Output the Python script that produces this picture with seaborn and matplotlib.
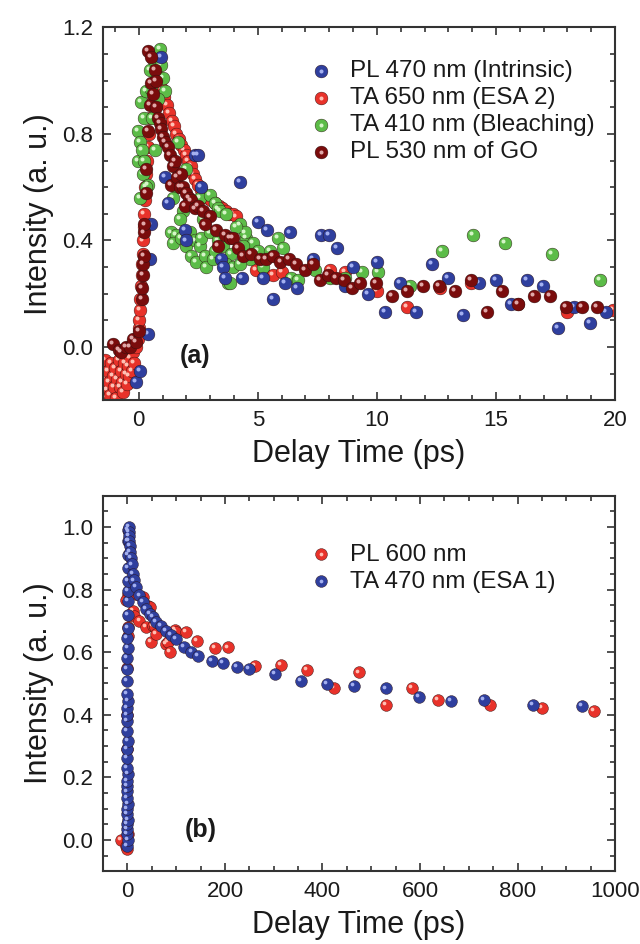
import matplotlib
matplotlib.use("Agg")
import matplotlib.pyplot as plt
import matplotlib.transforms as mtransforms
import pandas as pd
import seaborn as sns
from matplotlib.legend_handler import HandlerTuple
from matplotlib.ticker import MultipleLocator


# ---- panel (a), delay time in ps ----
pl470_t = [-0.10, 0.04, 0.39, 0.46, 0.50, 0.95, 1.09, 1.23, 1.93, 2.00, 2.35, 2.50,
           2.63, 3.47, 3.54, 3.61, 4.24, 4.35, 5.01, 5.22, 5.39, 5.64, 6.13, 6.34,
           6.65, 7.32, 7.67, 8.00, 8.33, 8.66, 8.98, 9.64, 9.99, 10.34, 10.97, 11.64,
           12.32, 12.97, 13.63, 14.30, 14.99, 15.63, 16.29, 16.96, 17.62, 18.28, 18.95, 19.62]
pl470_i = [-0.13, -0.09, 0.05, 0.33, 0.46, 1.09, 0.64, 0.54, 0.44, 0.40, 0.72, 0.72,
           0.60, 0.33, 0.30, 0.26, 0.62, 0.26, 0.47, 0.26, 0.44, 0.18, 0.24, 0.43,
           0.22, 0.33, 0.42, 0.42, 0.37, 0.23, 0.30, 0.20, 0.32, 0.13, 0.24, 0.13,
           0.31, 0.26, 0.12, 0.24, 0.25, 0.16, 0.25, 0.23, 0.07, 0.15, 0.09, 0.13]

ta650_t = [-1.45, -1.45, -1.40, -1.35, -1.30, -1.25, -1.20, -1.15, -1.10, -1.05, -1.00, -0.95,
           -0.90, -0.85, -0.80, -0.75, -0.70, -0.65, -0.60, -0.55, -0.50, -0.45, -0.40, -0.35,
           -0.30, -0.25, -0.20,
           -0.10, -0.05, 0.00, 0.02, 0.05, 0.07, 0.10, 0.12, 0.14, 0.16, 0.18, 0.20,
           0.22, 0.25, 0.28, 0.30, 0.33, 0.37, 0.42, 0.48, 0.55, 0.62, 0.70, 0.78,
           0.88, 0.98, 1.08, 1.18, 1.28, 1.38, 1.48, 1.58, 1.68, 1.78, 1.88, 1.98,
           2.08, 2.18, 2.28, 2.38, 2.48, 2.60, 2.75, 2.90, 3.05, 3.20, 3.35, 3.50,
           3.65, 3.80, 3.95, 4.10,
           4.94, 5.29, 5.64, 6.00, 8.03, 8.66, 9.99, 11.27, 12.65, 13.94, 15.94, 17.97, 19.93]
ta650_i = [-0.19, -0.12, -0.05, -0.16, -0.09, -0.13, -0.18, -0.06, -0.11, -0.15, -0.08, -0.19,
           -0.12, -0.05, -0.15, -0.09, -0.13, -0.17, -0.06, -0.10, -0.14, -0.07, -0.11, -0.04,
           -0.09, -0.02, -0.06,
           0.00, 0.03, 0.07, 0.10, 0.14, 0.18, 0.23, 0.27, 0.31, 0.35, 0.40, 0.45,
           0.50, 0.55, 0.60, 0.65, 0.70, 0.75, 0.80, 0.86, 0.92, 0.97, 1.00, 1.02,
           1.00, 0.97, 0.94, 0.91, 0.88, 0.85, 0.83, 0.80, 0.78, 0.76, 0.74, 0.72,
           0.70, 0.68, 0.65, 0.63, 0.61, 0.59, 0.57, 0.56, 0.55, 0.54, 0.53, 0.52,
           0.51, 0.50, 0.50, 0.49,
           0.29, 0.27, 0.27, 0.28, 0.29, 0.28, 0.21, 0.15, 0.22, 0.24, 0.16, 0.13, 0.14]

ta410_t = [-0.03, 0.04, -0.03, 0.18, 0.04, 0.11, 0.20, 0.32, 0.46, 0.60, 0.88, 0.95,
           1.02, 1.09, 0.39, 0.32, 0.67, 0.15, 0.22, 0.50, 0.70, 0.80, 0.55,
           1.65, 2.00, 1.58, 1.44, 2.56, 2.98, 3.19, 3.33,
           1.37, 1.58, 1.44, 1.79, 2.14, 2.00, 2.35, 2.56, 2.21, 2.42, 2.77, 2.84,
           3.12, 2.63, 2.98, 3.33, 3.54, 3.19, 3.89, 3.68, 3.96, 3.75, 4.24, 4.52,
           4.80, 4.38, 4.66, 5.01, 5.22, 5.50, 3.40, 3.68, 1.86, 2.14, 2.70, 1.72,
           4.45, 5.85, 6.06, 6.41, 6.69, 7.39, 8.03, 8.66, 9.36, 10.06, 3.82, 4.24, 4.10,
           11.39, 12.72, 14.02, 15.38, 17.37, 19.37]
ta410_i = [0.81, 0.77, 0.70, 0.65, 0.56, 0.92, 0.86, 0.96, 1.04, 1.08, 1.12, 1.06,
           1.01, 0.96, 0.61, 0.60, 0.74, 0.74, 0.70, 0.97, 1.00, 0.93, 0.86,
           0.77, 0.67, 0.60, 0.56, 0.56, 0.57, 0.54, 0.52,
           0.43, 0.42, 0.39, 0.41, 0.43, 0.38, 0.40, 0.38, 0.34, 0.32, 0.34, 0.30,
           0.33, 0.41, 0.43, 0.40, 0.38, 0.36, 0.35, 0.31, 0.30, 0.24, 0.46, 0.41,
           0.39, 0.38, 0.33, 0.36, 0.30, 0.36, 0.51, 0.50, 0.51, 0.54, 0.48, 0.48,
           0.43, 0.41, 0.37, 0.26, 0.25, 0.29, 0.26, 0.26, 0.28, 0.28, 0.24, 0.31, 0.45,
           0.23, 0.36, 0.42, 0.39, 0.35, 0.25]

go530_t = [-1.08, -0.85, -0.73, -0.55, -0.38, -0.24, -0.10, 0.01, 0.13, 0.15, 0.17, 0.18,
           0.20, 0.22, 0.24, 0.32, 0.32, 0.39, 0.46, 0.39, 0.53, 0.67, 0.53, 0.74,
           0.60, 0.74, 0.81, 0.88, 0.95, 1.02, 1.10, 1.23, 1.30, 1.37, 1.45, 1.51,
           1.60, 1.72, 1.79, 1.86, 2.00, 2.10, 2.21, 1.93, 2.35, 2.49, 2.70, 2.98,
           2.77, 3.26, 3.61, 3.82, 3.33, 3.96, 4.17, 4.38, 4.73, 5.08, 5.34, 5.64,
           5.95, 6.32, 6.62, 6.97, 7.30, 7.60, 7.95, 8.28, 8.61, 8.94, 9.29, 9.96,
           10.62, 11.27, 11.95, 12.62, 13.28, 13.94, 14.61, 15.27, 15.94, 16.61, 17.27,
           17.93, 18.60, 19.26]
go530_i = [0.01, -0.01, -0.02, 0.00, 0.00, 0.03, 0.02, 0.06, 0.18, 0.22, 0.27, 0.31,
           0.34, 0.43, 0.46, 0.58, 0.67, 0.81, 0.91, 1.11, 1.09, 1.04, 0.99, 1.00,
           0.95, 0.90, 0.86, 0.84, 0.82, 0.79, 0.77, 0.75, 0.72, 0.61, 0.68, 0.70,
           0.64, 0.60, 0.65, 0.60, 0.58, 0.56, 0.55, 0.53, 0.52, 0.53, 0.51, 0.49,
           0.46, 0.44, 0.42, 0.41, 0.38, 0.41, 0.37, 0.34, 0.35, 0.33, 0.33, 0.34,
           0.32, 0.33, 0.31, 0.29, 0.31, 0.25, 0.27, 0.26, 0.25, 0.22, 0.24, 0.24,
           0.19, 0.21, 0.23, 0.23, 0.21, 0.25, 0.13, 0.21, 0.16, 0.19, 0.19,
           0.15, 0.15, 0.15]

# ---- panel (b), delay time in ps ----
ta470_t = [0, 1, 0, -1, 0, 1, 0, 0, 1, 0, -1, 0,
           0, 1, 0, 0, 0, 1, 0, 0, 0, 0, 1, 0,
           0, 0, 0, 1, 0, 1, 1, 1, 1, 1, 1, 1,
           1.5, 2, 2.5, 3, 3.5, 4, 5, 6, 7.5, 9, 10.9, 14.4,
           17.9, 24.7, 31.6, 38.6, 45.4, 52.2, 59.2, 69.5, 79.8, 90.1, 100.4, 115.5,
           131.3, 145, 172.6, 196.5, 224.1, 250.1, 303.1, 356.7, 409.7, 464.6, 530, 598.6,
           664, 731.4, 832.4, 932]
ta470_i = [-0.02, 0.00, 0.018, 0.035, 0.05, 0.065, 0.082, 0.10, 0.114, 0.135, 0.155, 0.173,
           0.19, 0.21, 0.231, 0.263, 0.29, 0.317, 0.349, 0.381, 0.40, 0.423, 0.445, 0.466,
           0.509, 0.546, 0.58, 0.613, 0.645, 0.677, 0.72, 0.762, 0.794, 0.826, 0.869, 0.911,
           0.954, 0.99, 1.00, 0.985, 0.97, 0.955, 0.94, 0.92, 0.90, 0.88, 0.85, 0.829,
           0.807, 0.781, 0.759, 0.738, 0.722, 0.711, 0.695, 0.685, 0.669, 0.654, 0.642, 0.618,
           0.60, 0.589, 0.573, 0.565, 0.554, 0.546, 0.53, 0.509, 0.498, 0.493, 0.484, 0.458,
           0.445, 0.447, 0.431, 0.429]

pl600_t = [-13, -3, 0, 1, 0, 0, 0, 1, 0.6, -2.7, 0.6, 3,
           10.9, 14.4, 17.9, 24.7, 31.6, 38.6, 41.9, 45.4, 48.9, 52.2, 55.7, 59.2,
           79.8, 83.1, 86.6, 96.9, 100.4, 121, 141.7, 179.4, 206.8, 261.9, 315.5, 368.5,
           423.3, 474.9, 530, 582.9, 636.5, 743, 849.5, 956.1]
pl600_i = [0.00, -0.02, -0.03, 0.02, 0.29, 0.40, 0.55, 0.65, 0.786, 0.765, 0.679, 0.72,
           0.733, 0.717, 0.786, 0.701, 0.775, 0.679, 0.746, 0.743, 0.631, 0.685, 0.679, 0.658,
           0.626, 0.631, 0.60, 0.671, 0.663, 0.663, 0.637, 0.613, 0.615, 0.557, 0.56, 0.543,
           0.485, 0.535, 0.432, 0.487, 0.447, 0.432, 0.423, 0.413]

BLUE, BLUE_HL = "#2f3f9e", "#a4b0f0"
RED, RED_HL = "#e8322a", "#ffc0b4"
GREEN, GREEN_HL = "#5cbc48", "#d6f5c8"
DKRED, DKRED_HL = "#7a0c0c", "#e0a8a8"
INK = "#1a1a1a"

TICK_SIZE = 16
LABEL_SIZE = 22
LEGEND_SIZE = 17.5

sns.set_style("ticks")
plt.rcParams["font.family"] = ["Liberation Sans", "DejaVu Sans"]
plt.rcParams.update({"text.color": INK, "axes.labelcolor": INK,
                     "xtick.color": INK, "ytick.color": INK})


def draw_balls(ax, fig, t, i, color, hl, label, size):
    df = pd.DataFrame({"t": t, "i": i})
    sns.scatterplot(data=df, x="t", y="i", color=color, s=size, edgecolor="#2a1010",
                    linewidth=0.3, alpha=1.0, label=label, ax=ax, legend=False)
    base = ax.collections[-1]
    shift = mtransforms.offset_copy(ax.transData, fig=fig, x=-1.4, y=1.4, units="points")
    glint = ax.scatter(df["t"], df["i"], s=size * 0.1, color=hl, linewidths=0,
                       transform=shift, zorder=base.get_zorder())
    return (base, glint)


def style_axes(ax, xmaj, xmin, ymaj, ymin):
    ax.xaxis.set_major_locator(MultipleLocator(xmaj))
    ax.xaxis.set_minor_locator(MultipleLocator(xmin))
    ax.yaxis.set_major_locator(MultipleLocator(ymaj))
    ax.yaxis.set_minor_locator(MultipleLocator(ymin))
    ax.tick_params(which="both", direction="in", top=True, right=True,
                   labelsize=TICK_SIZE, color="#333333", width=1.2)
    ax.tick_params(which="major", length=6, pad=7)
    ax.tick_params(which="minor", length=3.5)
    for sp in ax.spines.values():
        sp.set_linewidth(1.5)
        sp.set_color("#333333")
    ax.set_xlabel("Delay Time (ps)", fontsize=LABEL_SIZE, labelpad=6)
    ax.set_ylabel("Intensity (a. u.)", fontsize=LABEL_SIZE, labelpad=6)


fig = plt.figure(figsize=(6.4, 9.44), dpi=100)
ax_a = fig.add_axes([0.161, 0.576, 0.8, 0.395])
ax_b = fig.add_axes([0.161, 0.077, 0.8, 0.398])

handler = {tuple: HandlerTuple(ndivide=1, pad=0)}

# panel (a): draw order red, green, blue, dark red
h_red = draw_balls(ax_a, fig, ta650_t, ta650_i, RED, RED_HL, "TA 650 nm (ESA 2)", 85)
h_green = draw_balls(ax_a, fig, ta410_t, ta410_i, GREEN, GREEN_HL, "TA 410 nm (Bleaching)", 85)
h_blue = draw_balls(ax_a, fig, pl470_t, pl470_i, BLUE, BLUE_HL, "PL 470 nm (Intrinsic)", 85)
h_dk = draw_balls(ax_a, fig, go530_t, go530_i, DKRED, DKRED_HL, "PL 530 nm of GO", 85)
ax_a.set_xlim(-1.5, 20)
ax_a.set_ylim(-0.2, 1.2)
style_axes(ax_a, 5, 1, 0.4, 0.1)
ax_a.legend([h_blue, h_red, h_green, h_dk],
            ["PL 470 nm (Intrinsic)", "TA 650 nm (ESA 2)", "TA 410 nm (Bleaching)", "PL 530 nm of GO"],
            handler_map=handler, loc="upper left", bbox_to_anchor=(0.355, 0.97),
            frameon=False, fontsize=LEGEND_SIZE, handletextpad=0.6,
            labelspacing=0.2, handlelength=1.2)
ax_a.text(0.18, 0.12, "(a)", transform=ax_a.transAxes, fontsize=18,
          fontweight="bold", ha="center", va="center")

# panel (b)
h_pl = draw_balls(ax_b, fig, pl600_t, pl600_i, RED, RED_HL, "PL 600 nm", 72)
h_ta = draw_balls(ax_b, fig, ta470_t, ta470_i, BLUE, BLUE_HL, "TA 470 nm (ESA 1)", 72)
ax_b.set_xlim(-50, 1000)
ax_b.set_ylim(-0.1, 1.1)
style_axes(ax_b, 200, 50, 0.2, 0.05)
ax_b.legend([h_pl, h_ta], ["PL 600 nm", "TA 470 nm (ESA 1)"],
            handler_map=handler, loc="upper left", bbox_to_anchor=(0.355, 0.93),
            frameon=False, fontsize=LEGEND_SIZE, handletextpad=0.6,
            labelspacing=0.2, handlelength=1.2)
ax_b.text(0.19, 0.11, "(b)", transform=ax_b.transAxes, fontsize=18,
          fontweight="bold", ha="center", va="center")

fig.savefig("out.png", dpi=100)
